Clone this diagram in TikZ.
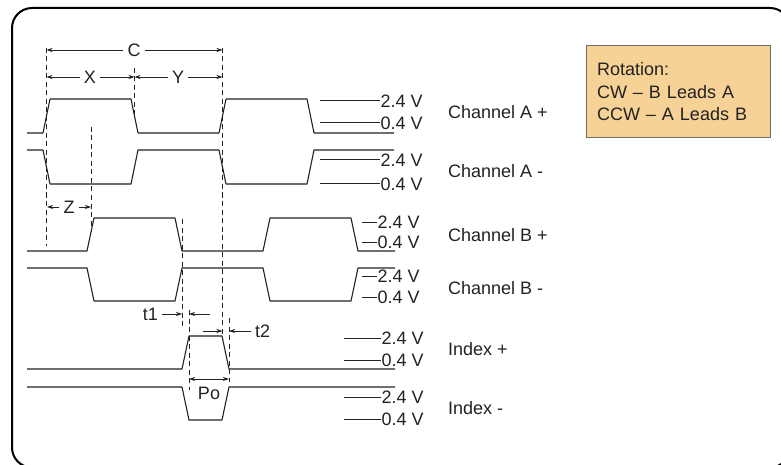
\documentclass[tikz,border=0pt]{standalone}
\usepackage{fontspec}
\setmainfont{Liberation Sans}
\usetikzlibrary{arrows.meta}

\definecolor{rotfill}{HTML}{F7D296}
\definecolor{rotline}{HTML}{6E6E6E}
\definecolor{ink}{HTML}{222222}

\tikzset{
	frame/.style={black, line width=2pt, rounded corners=20pt},
	wave/.style={ink, line width=1.1pt, line join=round},
	guide/.style={ink, line width=0.9pt, dash pattern=on 5pt off 3.5pt},
	dim/.style={ink, line width=0.9pt, -{Stealth[length=6pt,width=4pt]}},
	dimboth/.style={ink, line width=0.9pt, {Stealth[length=6pt,width=4pt]}-{Stealth[length=6pt,width=4pt]}},
	lvl/.style={ink, line width=1pt},
	lbl/.style={font=\fontsize{18}{22}\selectfont, text=ink, inner xsep=4pt, inner ysep=0.5pt},
	volt/.style={font=\fontsize{18}{22}\selectfont, text=ink, inner sep=0.5pt, anchor=west},
	chan/.style={font=\fontsize{18}{22}\selectfont, text=ink, inner sep=0pt, anchor=west},
	rotbox/.style={draw=rotline, fill=rotfill, line width=1pt, text=ink, text width=162pt, inner xsep=11pt, inner ysep=0pt, minimum height=92pt, align=left, font=\fontsize{18}{22.5}\selectfont}
}

\begin{document}
\begin{tikzpicture}[x=1pt,y=-1pt]
	\useasboundingbox (0,0) rectangle (781,465);
	\draw[frame] (12,8) rectangle (790,467.5);

	\draw[wave] (27,133) -- (43,133) -- (50,99) -- (131,99) -- (138,133) -- (219,133) -- (226,99) -- (307,99) -- (314,133) -- (394,133);
	\draw[wave] (27,150) -- (43,150) -- (50,184) -- (131,184) -- (138,150) -- (219,150) -- (226,184) -- (307,184) -- (314,150) -- (394,150);
	\draw[wave] (27,251) -- (87,251) -- (94,218) -- (175,218) -- (182,251) -- (263,251) -- (270,218) -- (351,218) -- (358,251) -- (395,251);
	\draw[wave] (27,268) -- (87,268) -- (94,301) -- (175,301) -- (182,268) -- (263,268) -- (270,301) -- (351,301) -- (358,268) -- (395,268);
	\draw[wave] (27,369) -- (182,369) -- (189,336) -- (222,336) -- (229,369) -- (395,369);
	\draw[wave] (27,387) -- (182,387) -- (189,420) -- (222,420) -- (229,387) -- (395,387);

	\draw[guide] (46.5,48) -- (46.5,246);
	\draw[guide] (91,127) -- (91,232);
	\draw[guide] (134.5,68) -- (134.5,114);
	\draw[guide] (222.5,48) -- (222.5,336);
	\draw[guide] (182,219) -- (182,326);
	\draw[guide] (189,310) -- (189,390);
	\draw[guide] (229,318) -- (229,382);

	\coordinate (cL) at (46.5,50);
	\coordinate (cR) at (222.5,50);
	\node[lbl] (C) at (134,50) {C};
	\draw[dim] (C) -- (cL);
	\draw[dim] (C) -- (cR);

	\coordinate (xL) at (46.5,77);
	\coordinate (xR) at (134.5,77);
	\coordinate (yR) at (222.5,77);
	\node[lbl] (X) at (90,77) {X};
	\node[lbl] (Y) at (178,77) {Y};
	\draw[dim] (X) -- (xL);
	\draw[dim] (X) -- (xR);
	\draw[dim] (Y) -- (xR);
	\draw[dim] (Y) -- (yR);

	\coordinate (zL) at (47,207);
	\coordinate (zR) at (91,207);
	\node[lbl] (Z) at (69,207) {Z};
	\draw[dim] (Z) -- (zL);
	\draw[dim] (Z) -- (zR);

	\node[lbl, anchor=east] (t1) at (162,314) {t1};
	\coordinate (t1L) at (182,314);
	\coordinate (t1R) at (189,314);
	\coordinate (t1S) at (210,314);
	\draw[dim] (t1) -- (t1L);
	\draw[dim] (t1S) -- (t1R);

	\node[lbl, anchor=west] (t2) at (251,331) {t2};
	\coordinate (t2S) at (203,331);
	\coordinate (t2L) at (222.5,331);
	\coordinate (t2R) at (229,331);
	\draw[dim] (t2S) -- (t2L);
	\draw[dim] (t2) -- (t2R);

	\coordinate (poL) at (189,379);
	\coordinate (poR) at (229,379);
	\draw[dimboth] (poL) -- (poR);
	\node[lbl] (Po) at (209,393) {Po};

	\node[volt] (aHi) at (380,101) {2.4 V};
	\node[volt] (aLo) at (380,123) {0.4 V};
	\node[volt] (anHi) at (380,160) {2.4 V};
	\node[volt] (anLo) at (380,184) {0.4 V};
	\node[volt] (bHi) at (377,222) {2.4 V};
	\node[volt] (bLo) at (377,242) {0.4 V};
	\node[volt] (bnHi) at (377,276) {2.4 V};
	\node[volt] (bnLo) at (377,297) {0.4 V};
	\node[volt] (iHi) at (381,338) {2.4 V};
	\node[volt] (iLo) at (381,360) {0.4 V};
	\node[volt] (inHi) at (381,397) {2.4 V};
	\node[volt] (inLo) at (381,419) {0.4 V};
	\draw[lvl] (aHi.west) -- ++(-60,0);
	\draw[lvl] (aLo.west) -- ++(-60,0);
	\draw[lvl] (anHi.west) -- ++(-60,0);
	\draw[lvl] (anLo.west) -- ++(-60,0);
	\draw[lvl] (bHi.west) -- ++(-15,0);
	\draw[lvl] (bLo.west) -- ++(-15,0);
	\draw[lvl] (bnHi.west) -- ++(-15,0);
	\draw[lvl] (bnLo.west) -- ++(-15,0);
	\draw[lvl] (iHi.west) -- ++(-37,0);
	\draw[lvl] (iLo.west) -- ++(-37,0);
	\draw[lvl] (inHi.west) -- ++(-37,0);
	\draw[lvl] (inLo.west) -- ++(-37,0);

	\node[chan] (chAp) at (448,112) {Channel A +};
	\node[chan] (chAn) at (448,171) {Channel A -};
	\node[chan] (chBp) at (448,235) {Channel B +};
	\node[chan] (chBn) at (448,288) {Channel B -};
	\node[chan] (idxP) at (448,349) {Index +};
	\node[chan] (idxN) at (448,408) {Index -};

	\node[rotbox] (rot) at (678,92) {Rotation:\\CW – B Leads A\\CCW – A Leads B};
\end{tikzpicture}
\end{document}
